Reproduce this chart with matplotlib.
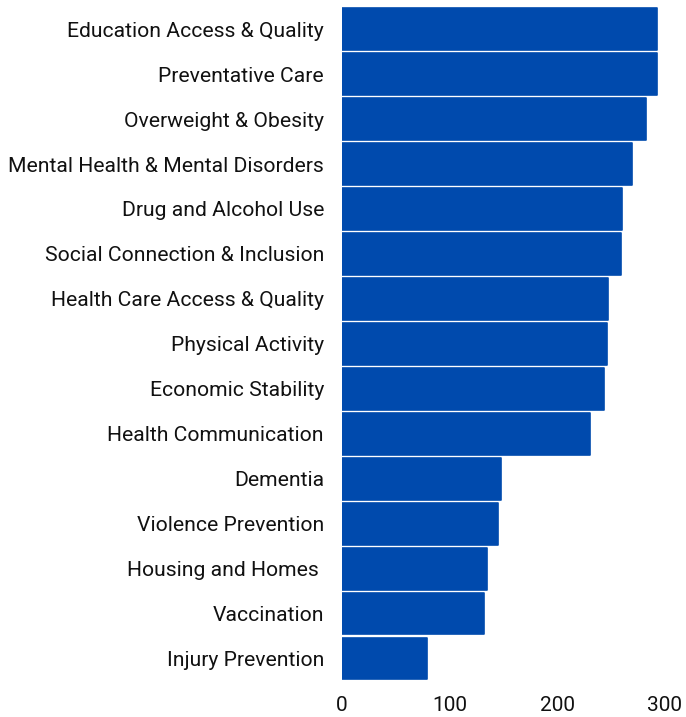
import matplotlib
matplotlib.use("Agg")
import matplotlib.pyplot as plt

categories = [
    "Education Access & Quality",
    "Preventative Care",
    "Overweight & Obesity",
    "Mental Health & Mental Disorders",
    "Drug and Alcohol Use",
    "Social Connection & Inclusion",
    "Health Care Access & Quality",
    "Physical Activity",
    "Economic Stability",
    "Health Communication",
    "Dementia",
    "Violence Prevention",
    "Housing and Homes ",
    "Vaccination",
    "Injury Prevention",
]
values = [293, 293, 282, 269, 260, 259, 247, 246, 243, 230, 148, 145, 135, 132, 79]
xticks = [0, 100, 200, 300]

plt.rcParams['font.family'] = ['Roboto', 'DejaVu Sans']

fig = plt.figure(figsize=(6.86, 7.17), dpi=100)
ax = fig.add_axes([342/686, 1-681/717, (665-342)/686, (681-6.7)/717])

pos = list(range(len(categories)))
ax.barh(pos, values, height=0.93, color='#004AAD', edgecolor='#004AAD',
        linewidth=1.2, joinstyle='round')
ax.set_ylim(len(categories)-0.5, -0.5)
ax.set_xlim(0, 300)
ax.set_yticks(pos)
ax.set_yticklabels(categories, fontsize=15.2, color='#111111')
ax.set_xticks(xticks)
ax.set_xticklabels([str(t) for t in xticks], fontsize=15, color='#111111')
ax.tick_params(axis='both', length=0)
ax.tick_params(axis='y', pad=13)
ax.tick_params(axis='x', pad=11)
for s in ax.spines.values():
    s.set_visible(False)

fig.savefig("out.png", dpi=100)
